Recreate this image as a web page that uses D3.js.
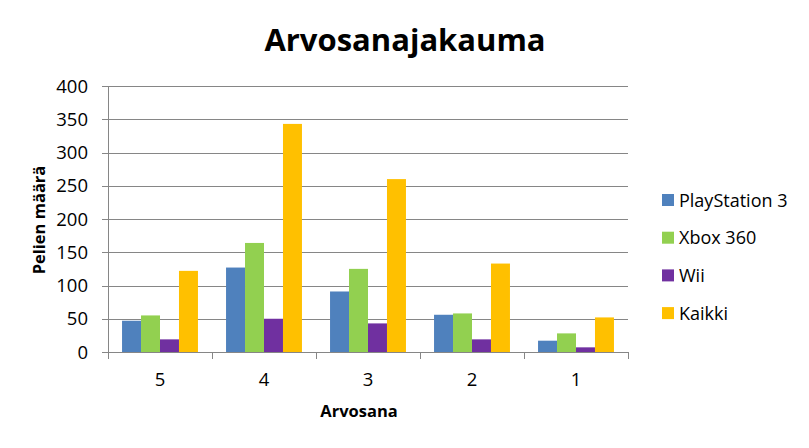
<!DOCTYPE html>
<html>
<head>
<meta charset="utf-8">
<script src="https://cdn.jsdelivr.net/npm/d3@7"></script>
<style>
  body { margin: 0; background: #fff; }
  svg text { font-family: "Open Sans", "Noto Sans", sans-serif; fill: #000; }
</style>
</head>
<body>
<div id="chart"></div>
<script>
  'use strict';

  var categories = ["5", "4", "3", "2", "1"];
  var seriesNames = ["PlayStation 3", "Xbox 360", "Wii", "Kaikki"];
  var ps3 = [47, 127, 91, 56, 17];
  var xbox = [55, 164, 125, 58, 28];
  var wii = [19, 50, 43, 19, 7];
  var kaikki = [122, 343, 260, 133, 52];
  var yTicks = [0, 50, 100, 150, 200, 250, 300, 350, 400];
  var colors = ["#4F81BD", "#92D050", "#7030A0", "#FFC000"];

  var w = 809;
  var h = 448;
  var plotLeft = 108;
  var plotRight = 628;
  var plotTop = 86;
  var plotBottom = 352;

  var allSeries = [ps3, xbox, wii, kaikki];

  var svg = d3.select("#chart").append("svg")
    .attr("width", w)
    .attr("height", h);

  var x0 = d3.scaleBand()
    .domain(categories)
    .range([plotLeft, plotRight])
    .paddingInner(0.27)
    .paddingOuter(0.135);

  var x1 = d3.scaleBand()
    .domain(d3.range(seriesNames.length))
    .range([0, x0.bandwidth()]);

  var y = d3.scaleLinear()
    .domain([0, 400])
    .range([plotBottom, plotTop]);

  // gridlines
  svg.append("g")
    .selectAll("line")
    .data(yTicks)
    .enter()
    .append("line")
    .attr("x1", plotLeft - 6)
    .attr("x2", plotRight)
    .attr("y1", function (d) { return Math.round(y(d)) + 0.5; })
    .attr("y2", function (d) { return Math.round(y(d)) + 0.5; })
    .attr("stroke", "#868686")
    .attr("stroke-width", 1);

  // y tick labels
  svg.append("g")
    .selectAll("text")
    .data(yTicks)
    .enter()
    .append("text")
    .attr("x", plotLeft - 20)
    .attr("y", function (d) { return y(d) + 6.5; })
    .attr("text-anchor", "end")
    .style("font-size", "18.5px")
    .text(function (d) { return d; });

  // bars
  var group = svg.append("g")
    .selectAll("g")
    .data(categories)
    .enter()
    .append("g")
    .attr("transform", function (d) { return "translate(" + x0(d) + ",0)"; });

  group.selectAll("rect")
    .data(function (d, i) {
      return allSeries.map(function (s, j) { return { s: j, v: s[i] }; });
    })
    .enter()
    .append("rect")
    .attr("x", function (d) { return x1(d.s); })
    .attr("width", x1.bandwidth())
    .attr("y", function (d) { return y(d.v); })
    .attr("height", function (d) { return plotBottom - y(d.v); })
    .attr("fill", function (d) { return colors[d.s]; });

  // axes lines
  svg.append("line")
    .attr("x1", plotLeft + 0.5).attr("x2", plotLeft + 0.5)
    .attr("y1", plotTop).attr("y2", plotBottom)
    .attr("stroke", "#868686");

  svg.append("line")
    .attr("x1", plotLeft).attr("x2", plotRight + 1)
    .attr("y1", plotBottom + 0.5).attr("y2", plotBottom + 0.5)
    .attr("stroke", "#868686");

  // x category ticks
  var tickXs = categories.map(function (c) { return x0(c) - x0.step() * 0.135; });
  tickXs.push(plotRight);
  svg.append("g")
    .selectAll("line")
    .data(tickXs)
    .enter()
    .append("line")
    .attr("x1", function (d) { return Math.round(d) + 0.5; })
    .attr("x2", function (d) { return Math.round(d) + 0.5; })
    .attr("y1", plotBottom)
    .attr("y2", plotBottom + 7)
    .attr("stroke", "#868686");

  svg.append("g")
    .selectAll("text")
    .data(categories)
    .enter()
    .append("text")
    .attr("x", function (d) { return x0(d) + x0.bandwidth() / 2; })
    .attr("y", 386)
    .attr("text-anchor", "middle")
    .style("font-size", "18.5px")
    .text(function (d) { return d; });

  // titles
  svg.append("text")
    .attr("x", 405)
    .attr("y", 51)
    .attr("text-anchor", "middle")
    .style("font-size", "31px")
    .style("font-weight", "bold")
    .text("Arvosanajakauma");

  svg.append("text")
    .attr("x", 359)
    .attr("y", 417)
    .attr("text-anchor", "middle")
    .style("font-size", "16.5px")
    .style("font-weight", "bold")
    .text("Arvosana");

  svg.append("text")
    .attr("transform", "translate(45,220) rotate(-90)")
    .attr("text-anchor", "middle")
    .style("font-size", "16.5px")
    .style("font-weight", "bold")
    .text("Pelien määrä");

  // legend
  var legend = svg.append("g")
    .selectAll("g")
    .data(seriesNames)
    .enter()
    .append("g")
    .attr("transform", function (d, i) { return "translate(662," + (194 + i * 37.7) + ")"; });

  legend.append("rect")
    .attr("width", 12)
    .attr("height", 12)
    .attr("fill", function (d, i) { return colors[i]; });

  legend.append("text")
    .attr("x", 17)
    .attr("y", 12.5)
    .style("font-size", "18px")
    .text(function (d) { return d; });
</script>
</body>
</html>
